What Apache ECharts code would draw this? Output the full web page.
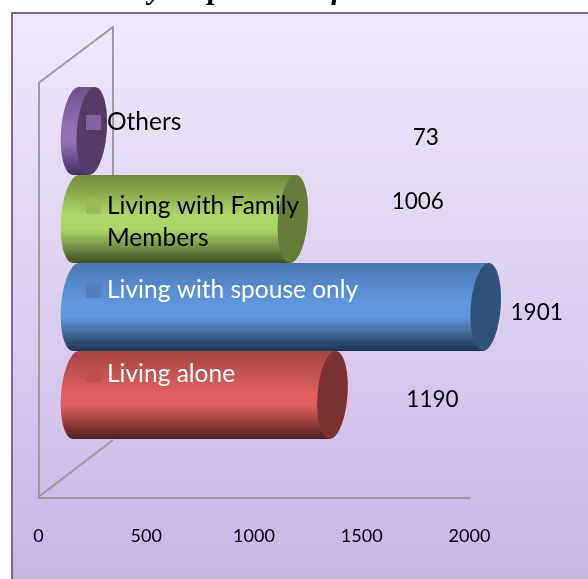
<!DOCTYPE html>
<html><head><meta charset="utf-8">
<style>html,body{margin:0;padding:0;background:#fff}#c{width:588px;height:579px}</style>
<script src="https://cdn.jsdelivr.net/npm/echarts@6/dist/echarts.min.js"></script>
</head><body><div id="c"></div>
<script>
const categories = ['Living alone','Living with spouse only','Living with Family Members','Others'];
const values = [1190,1901,1006,73];
const tickLabels = ['0','500','1000','1500','2000'];
const clippedTitle = 'elderly respondents from Urban Areas';

const baseColors = ['#c0504d','#4f81bd','#9bbb59','#8064a2'];
const capColors = ['#7a3230','#2f5279','#667d38','#533c66'];
const shades = [
  ['#a04442','#de5f5c','#4e1f1f'],
  ['#4a79b4','#5f97dc','#1e3450'],
  ['#6f8a3c','#afd468','#3f4f24'],
  ['#6b5089','#9072ba','#46305e']
];
const legendTextColors = ['#fff','#fff','#000','#000'];
const legendTops = [356.5,272.5,188.5,104.5];
const labelShift = [[100,5],[51,6],[125,-17],[334,7]];

const FONT = 'Lato, Carlito, sans-serif';
const RX = 15, SKEW = 3;

function halfEllipse(cx, cy, ry, from, to){
  const pts = [];
  for(let k=0;k<=24;k++){
    const t = from + (to-from)*k/24;
    pts.push([cx + RX*Math.cos(t) - SKEW*Math.sin(t), cy + ry*Math.sin(t)]);
  }
  return pts;
}
function cylinder(idx){
  return function(params, api){
    const end = api.coord([api.value(0), api.value(1)]);
    const start = api.coord([0, api.value(1)]);
    const ry = api.size([0,1])[1]/2;
    const cy = end[1];
    const s = shades[idx];
    const body = halfEllipse(start[0],cy,ry,Math.PI*1.5,Math.PI*0.5)
      .concat(halfEllipse(end[0],cy,ry,Math.PI*0.5,-Math.PI*0.5));
    const shift = labelShift[idx];
    return {type:'group',children:[
      {type:'polygon',shape:{points:body},style:{fill:{type:'linear',x:0,y:0,x2:0,y2:1,colorStops:[
        {offset:0,color:s[0]},{offset:0.45,color:s[1]},{offset:0.62,color:s[1]},{offset:1,color:s[2]}]}}},
      {type:'polygon',shape:{points:halfEllipse(end[0],cy,ry,0,Math.PI*2)},style:{fill:capColors[idx]}},
      {type:'text',x:end[0]+shift[0],y:cy+shift[1],style:{text:String(api.value(0)),font:'22.5px '+FONT,fill:'#000',align:'center',verticalAlign:'middle'}}
    ]};
  };
}

const series = categories.map((name,i)=>({
  name, type:'custom', xAxisIndex:1, yAxisIndex:1, z:3, silent:true,
  itemStyle:{color:baseColors[i]},
  encode:{x:0,y:1},
  data:[[values[i],i]],
  renderItem:cylinder(i)
}));

const legend = categories.map((name,i)=>{
  const two = name==='Living with Family Members';
  return {
    data:[{name,icon: two ? 'path://M0 0H15V15H0Z M0 47L0 47' : 'rect'}],
    left:86, top:legendTops[i], orient:'vertical', padding:0,
    itemWidth:15, itemHeight: two?47:15, itemGap:0, selectedMode:false,
    formatter: n => two ? 'Living with Family\nMembers' : n,
    textStyle:{fontFamily:FONT,fontSize:24.5,lineHeight:32,color:legendTextColors[i],padding:[4,0,0,1]},
    z:5
  };
});

const chart = echarts.init(document.getElementById('c'),null,{renderer:'canvas'});
chart.setOption({
  animation:false,
  backgroundColor:'#fff',
  graphic:[
    {type:'rect',z:-2,shape:{x:12,y:13,width:600,height:600},style:{stroke:'#8064a2',lineWidth:2,
      fill:{type:'linear',x:0,y:0,x2:0,y2:1,colorStops:[{offset:0,color:'#f1e9f9'},{offset:1,color:'#c6b2e4'}]}}},
    {type:'text',z:-1,x:321,y:-26,style:{text:clippedTitle,align:'center',font:'italic bold 31px "Liberation Serif", serif',fill:'#000'}},
    {type:'polyline',z:1,shape:{points:[[38.5,83],[113,27],[113,175]]},style:{stroke:'#a09a9f',lineWidth:2,fill:null}},
    {type:'line',z:1,shape:{x1:113,y1:440,x2:38.5,y2:497},style:{stroke:'#a09a9f',lineWidth:2}}
  ],
  legend,
  grid:[
    {left:38.5,top:83,width:431,height:415},
    {left:76,top:87,width:431,height:352}
  ],
  xAxis:[
    {gridIndex:0,type:'value',min:0,max:2000,interval:500,
      axisLine:{show:true,lineStyle:{color:'#a09a9f',width:2}},axisTick:{show:false},splitLine:{show:false},
      axisLabel:{margin:29,fontFamily:FONT,fontSize:18,color:'#000',
        formatter:(v)=>tickLabels[v/500]}},
    {gridIndex:1,type:'value',min:0,max:2000,show:false}
  ],
  yAxis:[
    {gridIndex:0,type:'value',min:0,max:1,
      axisLine:{show:true,lineStyle:{color:'#a09a9f',width:2}},axisTick:{show:false},axisLabel:{show:false},splitLine:{show:false}},
    {gridIndex:1,type:'category',data:categories,show:false}
  ],
  series
});
</script></body></html>
